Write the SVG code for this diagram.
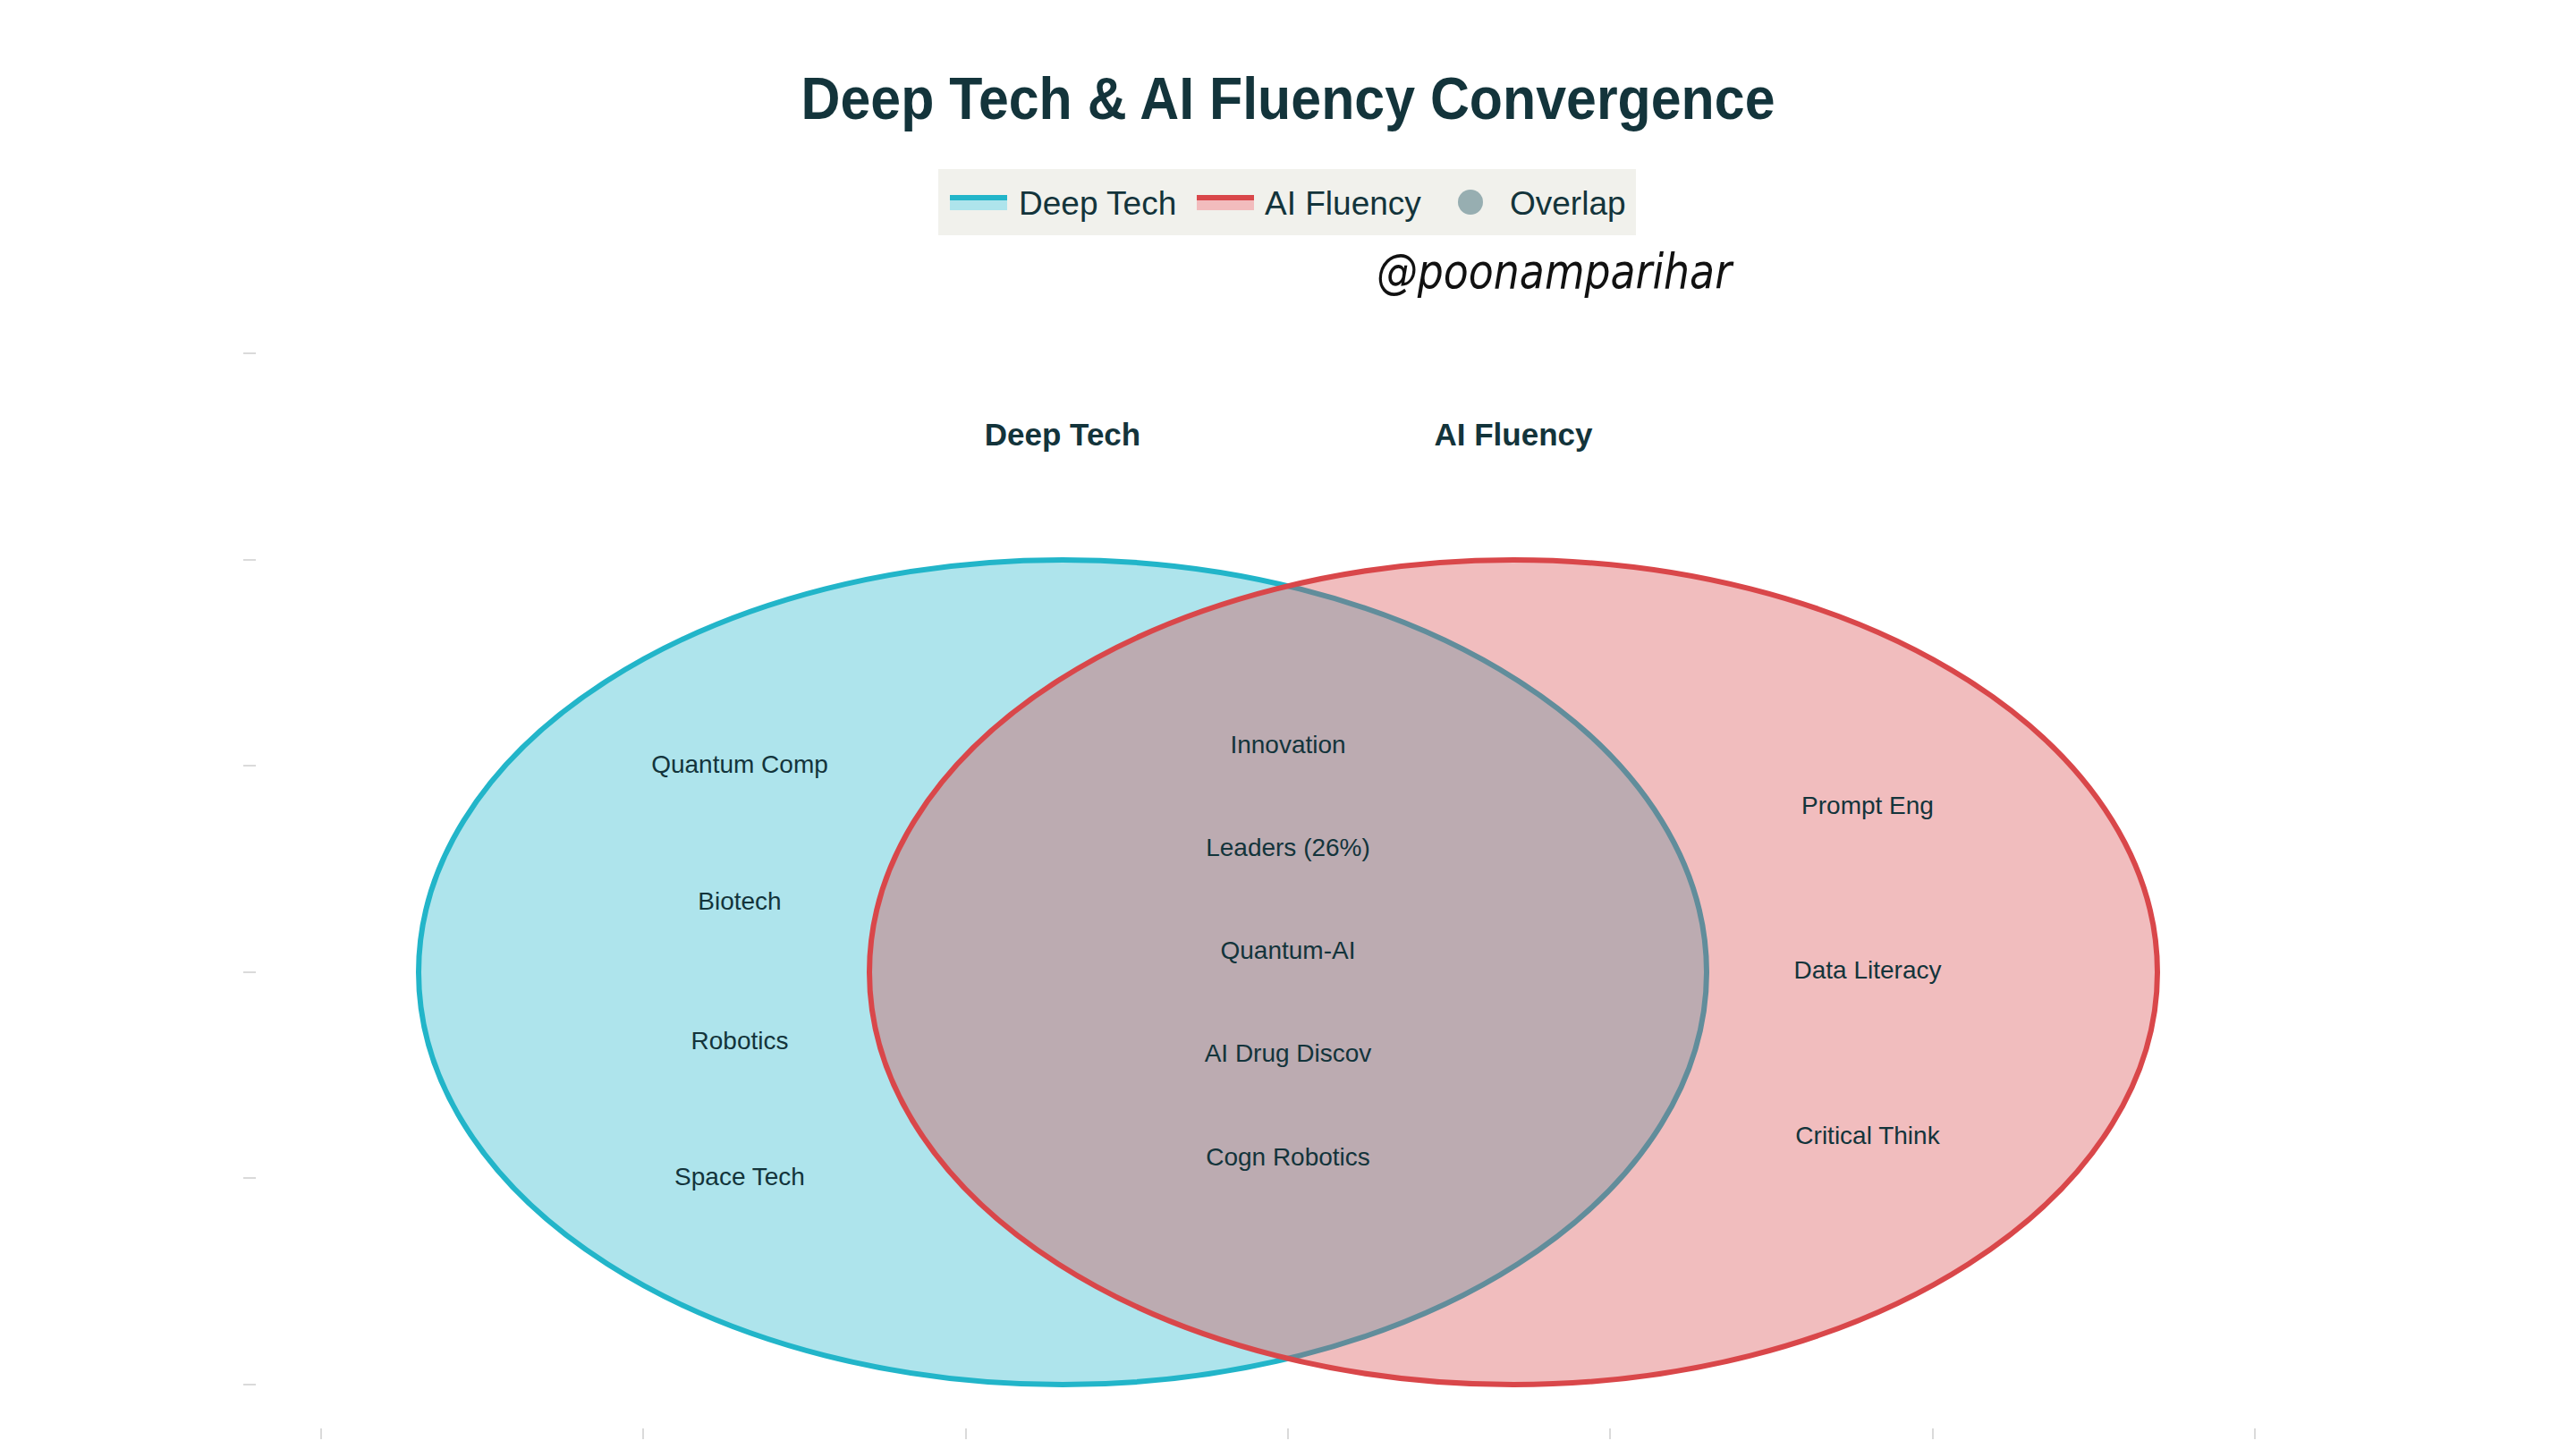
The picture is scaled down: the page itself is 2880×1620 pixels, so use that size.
<svg xmlns="http://www.w3.org/2000/svg" width="2880" height="1620" viewBox="0 0 2880 1620">
<style>
.t{font-family:"Liberation Sans",Arial,sans-serif;fill:#13343b}
.lbl{font-size:28px;text-anchor:middle}
.leg{font-size:37px}
.sec{font-size:35px;font-weight:bold;text-anchor:middle}
.tick{stroke:#dadada;stroke-width:2}
</style>
<rect width="2880" height="1620" fill="#ffffff"/>
<g id="axes">
<line class="tick" x1="272" y1="395" x2="286" y2="395"/>
<line class="tick" x1="272" y1="626" x2="286" y2="626"/>
<line class="tick" x1="272" y1="856" x2="286" y2="856"/>
<line class="tick" x1="272" y1="1087" x2="286" y2="1087"/>
<line class="tick" x1="272" y1="1317" x2="286" y2="1317"/>
<line class="tick" x1="272" y1="1548" x2="286" y2="1548"/>
<line class="tick" x1="359" y1="1597" x2="359" y2="1609"/>
<line class="tick" x1="719" y1="1597" x2="719" y2="1609"/>
<line class="tick" x1="1080" y1="1597" x2="1080" y2="1609"/>
<line class="tick" x1="1440" y1="1597" x2="1440" y2="1609"/>
<line class="tick" x1="1800" y1="1597" x2="1800" y2="1609"/>
<line class="tick" x1="2161" y1="1597" x2="2161" y2="1609"/>
<line class="tick" x1="2521" y1="1597" x2="2521" y2="1609"/>
</g>
<text id="title" class="t" x="1440" y="133" font-size="66" font-weight="bold" text-anchor="middle" textLength="1089" lengthAdjust="spacingAndGlyphs">Deep Tech &amp; AI Fluency Convergence</text>
<g id="legend">
<rect x="1049" y="189" width="780" height="74" fill="#f1f1ec"/>
<rect x="1062" y="218" width="64" height="17" fill="#aee4ec"/>
<rect x="1062" y="218" width="64" height="6" fill="#22b5c9"/>
<text class="t leg" x="1139" y="240">Deep Tech</text>
<rect x="1338" y="218" width="64" height="17" fill="#f2bcbd"/>
<rect x="1338" y="218" width="64" height="6" fill="#d9474a"/>
<text class="t leg" x="1414" y="240">AI Fluency</text>
<circle cx="1644" cy="226" r="14" fill="#97aeb1"/>
<text class="t leg" x="1688" y="240">Overlap</text>
</g>
<text id="signature" x="1539" y="322" font-family="'DejaVu Sans',sans-serif" font-size="54" font-weight="200" font-style="italic" fill="#111111" textLength="397" lengthAdjust="spacingAndGlyphs">@poonamparihar</text>
<g id="deep-tech-set">
<ellipse cx="1188" cy="1087" rx="720" ry="461" fill="#aee4ec" stroke="#22b5c9" stroke-width="6"/>
</g>
<g id="ai-fluency-set">
<ellipse cx="1692" cy="1087" rx="720" ry="461" fill="#d84245" fill-opacity="0.35"/>
<ellipse cx="1692" cy="1087" rx="720" ry="461" fill="none" stroke="#d9474a" stroke-width="6"/>
</g>
<g id="section-labels">
<text class="t sec" x="1188" y="498">Deep Tech</text>
<text class="t sec" x="1692" y="498">AI Fluency</text>
</g>
<g id="deep-tech-items">
<text class="t lbl" x="827" y="864">Quantum Comp</text>
<text class="t lbl" x="827" y="1017">Biotech</text>
<text class="t lbl" x="827" y="1173">Robotics</text>
<text class="t lbl" x="827" y="1325">Space Tech</text>
</g>
<g id="overlap-items">
<text class="t lbl" x="1440" y="842">Innovation</text>
<text class="t lbl" x="1440" y="957">Leaders (26%)</text>
<text class="t lbl" x="1440" y="1072">Quantum-AI</text>
<text class="t lbl" x="1440" y="1187">AI Drug Discov</text>
<text class="t lbl" x="1440" y="1303">Cogn Robotics</text>
</g>
<g id="ai-fluency-items">
<text class="t lbl" x="2088" y="910">Prompt Eng</text>
<text class="t lbl" x="2088" y="1094">Data Literacy</text>
<text class="t lbl" x="2088" y="1279">Critical Think</text>
</g>
<g id="connectors"/>
</svg>
